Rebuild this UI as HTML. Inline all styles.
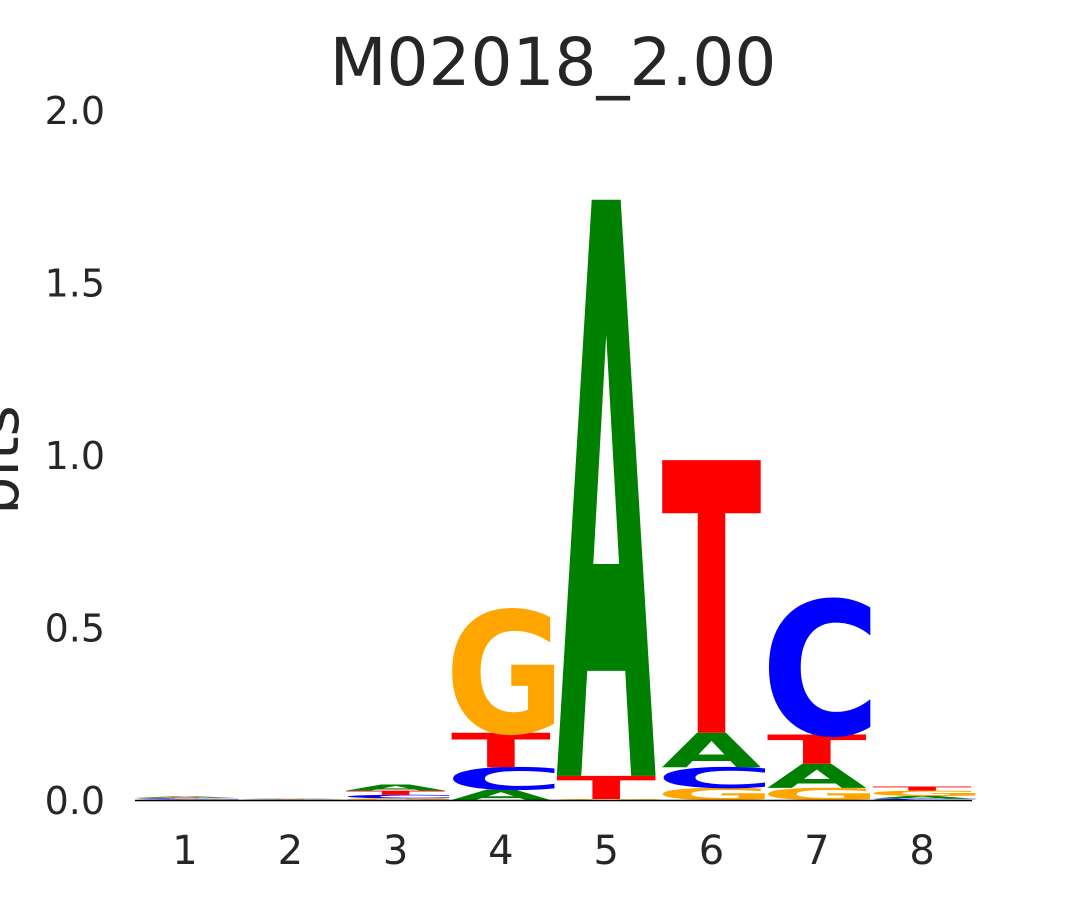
<!DOCTYPE html>
<html><head><meta charset="utf-8"><style>
html,body{margin:0;padding:0;background:#fff;overflow:hidden;width:1080px;height:900px;}
svg{display:block;font-family:"DejaVu Sans","Liberation Sans",sans-serif;}
</style></head><body>
<svg id="chart" width="1080" height="900">
<text x="553" y="85" font-size="66" text-anchor="middle" fill="#262626">M02018_2.00</text>
<text transform="translate(18,460) rotate(-90)" font-size="60" text-anchor="middle" fill="#262626">bits</text>
<g id="yticks"></g><g id="xticks"></g><g id="letters"></g>
<line x1="135" x2="972" y1="800.5" y2="800.5" stroke="#000" stroke-width="1.5"/>
</svg>
<script>
const positions = [1,2,3,4,5,6,7,8];
const yTickValues = [0,0.5,1,1.5,2];
const yTickLabels = ["0.0","0.5","1.0","1.5","2.0"];
// stacked bottom-to-top letters and heights (bits) per position
const stackLetters = [
 ["G","C","T","A"],
 ["G","C","T","A"],
 ["G","C","T","A"],
 ["A","C","T","G"],
 ["G","T","A"],
 ["G","C","A","T"],
 ["G","A","T","C"],
 ["C","A","G","T"]
];
const stackHeights = [
 [0.002,0.003,0.002,0.003],
 [0.001,0.001,0.001,0.001],
 [0.005,0.01,0.012,0.018],
 [0.03,0.065,0.1,0.355],
 [0.003,0.067,1.67],
 [0.035,0.06,0.1,0.79],
 [0.035,0.07,0.085,0.39],
 [0.004,0.008,0.015,0.012]
];
const colors = {A:"#008000",C:"#0000ff",G:"#ffa500",T:"#ff0000"};
const glyphLen = {A:100,T:100,C:120,G:120};
const glyphOff = {A:0,T:0,C:-6,G:-6};
const NS="http://www.w3.org/2000/svg";
const y0=800, pxPerBit=345, x1=185, step=105.3, lw=100;
const yScale=v=>y0-v*pxPerBit;
const xScale=p=>x1+(p-1)*step;
const yt=document.getElementById('yticks');
yTickValues.forEach((v,i)=>{
 const t=document.createElementNS(NS,'text');
 t.setAttribute('x',105);t.setAttribute('y',yScale(v)+14);
 t.setAttribute('font-size',38);t.setAttribute('text-anchor','end');t.setAttribute('fill','#262626');
 t.textContent=yTickLabels[i];
 
 
 yt.appendChild(t);
});
const xt=document.getElementById('xticks');
positions.forEach(p=>{
 const t=document.createElementNS(NS,'text');
 t.setAttribute('x',xScale(p));t.setAttribute('y',864);
 t.setAttribute('font-size',40);t.setAttribute('text-anchor','middle');t.setAttribute('fill','#262626');
 t.textContent=String(p);
 
 
 xt.appendChild(t);
});
const lg=document.getElementById('letters');
const capH=72.9;
positions.forEach((p,i)=>{
 let acc=0;
 stackLetters[i].forEach((L,j)=>{
  const h=stackHeights[i][j];
  const bottom=yScale(acc); acc+=h;
  const hp=h*pxPerBit;
  if(hp<=0) return;
  const t=document.createElementNS(NS,'text');
  t.setAttribute('x',0);t.setAttribute('y',0);
  t.setAttribute('font-size',100);t.setAttribute('font-weight','bold');
  t.setAttribute('textLength',glyphLen[L]);t.setAttribute('lengthAdjust','spacingAndGlyphs');
  t.setAttribute('fill',colors[L]);
  t.setAttribute('transform',`translate(${xScale(p)-lw/2+glyphOff[L]-(glyphLen[L]-lw)/2+(glyphLen[L]-lw)/2},${bottom}) scale(1,${hp/capH})`);
  t.textContent=L;
  
  
  lg.appendChild(t);
 });
});
</script>
</body></html>
